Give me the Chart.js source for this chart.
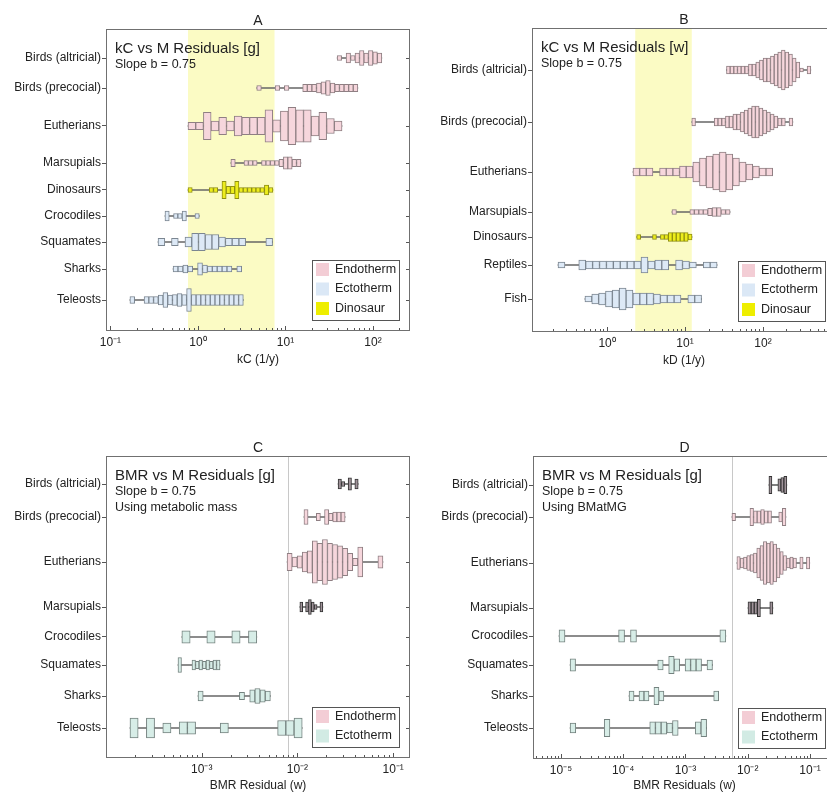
<!DOCTYPE html>
<html>
<head>
<meta charset="utf-8">
<script src="https://cdn.jsdelivr.net/npm/chart.js@4.4.1/dist/chart.umd.min.js"></script>
<style>
  body { margin: 0; background: #fff; width: 827px; height: 793px; position: relative; overflow: hidden; }
  canvas { position: absolute; }
</style>
</head>
<body>
<canvas id="chartA" width="414" height="400" style="left:0;top:0"></canvas>
<canvas id="chartB" width="424" height="400" style="left:414px;top:0"></canvas>
<canvas id="chartC" width="414" height="393" style="left:0;top:400px"></canvas>
<canvas id="chartD" width="424" height="393" style="left:414px;top:400px"></canvas>
<script>
// --- DATOS ---
// each group is a histogram on a log axis: first bin edge, bin width (decades), bin heights (count units)

// Panel A: kC vs M residuals [g]
const catsA = ['Birds (altricial)', 'Birds (precocial)', 'Eutherians', 'Marsupials', 'Dinosaurs', 'Crocodiles', 'Squamates', 'Sharks', 'Teleosts'];
const kindsA = ['endo', 'endo', 'endo', 'endo', 'dino', 'ecto', 'ecto', 'ecto', 'ecto'];
const startA = [39, 4.7, 0.77, 2.38, 0.77, 0.42, 0.35, 0.52, 0.167];
const stepA = [0.051, 0.0525, 0.088, 0.05, 0.0485, 0.049, 0.077, 0.056, 0.054];
const heightsA = [
  [1, 0, 2, 1, 2, 3, 2, 3, 2.5, 2],
  [1, 0, 0, 0, 1, 0, 1, 0, 0, 0, 1.5, 1.5, 1.5, 2, 2.5, 3, 2, 1.5, 1.5, 1.5, 1.5, 1.5],
  [1.5, 1.5, 5.5, 2, 3.5, 2, 4, 3.5, 3.5, 3.5, 6.5, 2.5, 6, 7.5, 6.5, 6.5, 4, 5.5, 3, 2],
  [1.5, 0, 0, 1, 1, 1, 0, 1, 1, 1, 1, 1.5, 2.5, 2.5, 1.5, 1.5],
  [1, 0, 0, 0, 0, 1, 1, 0, 3.5, 1.5, 1.5, 3.5, 1, 1, 1, 1, 1, 1, 2, 1],
  [2, 0, 1, 1, 2, 0, 0, 1],
  [1.5, 0, 1.5, 0, 2, 3.5, 3.5, 3, 3, 2, 1.5, 1.5, 1.5, 0, 0, 0, 1.5],
  [1.2, 1.2, 1.6, 1.2, 0, 2.5, 1.6, 1.2, 1.2, 1.2, 1.2, 1.2, 0, 1.2],
  [1.4, 0, 0, 1.4, 1.4, 1.4, 2, 3, 2, 2.2, 2.6, 2.2, 4.6, 2.2, 2.2, 2.2, 2.2, 2.2, 2.2, 2.2, 2.2, 2.2, 2.2, 2.2]
];
const bandA = [0.77, 7.5];
const tickExpA = [-1, 0, 1, 2];

// Panel B: kC vs M residuals [w]
const catsB = ['Birds (altricial)', 'Birds (precocial)', 'Eutherians', 'Marsupials', 'Dinosaurs', 'Reptiles', 'Fish'];
const kindsB = ['endo', 'endo', 'endo', 'endo', 'dino', 'ecto', 'ecto'];
const startB = [34, 12.2, 2.15, 6.8, 2.4, 0.235, 0.52];
const stepB = [0.047, 0.048, 0.0853, 0.0573, 0.0507, 0.0887, 0.088];
const heightsB = [
  [2, 2, 2, 2, 2, 2, 3, 3, 4, 5, 6, 6, 7, 8, 9, 10, 9, 8, 6, 4, 1, 0, 2],
  [2, 0, 0, 0, 0, 0, 2, 2, 2, 3, 3, 4, 4, 5, 6, 7, 8, 8, 7, 6, 5, 4, 3, 2, 2, 0, 2],
  [2, 2, 2, 0, 2, 2, 2, 3, 3, 5, 7, 8, 9, 10, 9, 7, 5, 4, 3, 2, 2],
  [1.2, 0, 0, 0, 1.2, 1.2, 1.2, 1.2, 1.8, 2.2, 2.2, 1.2, 1.2],
  [1.2, 0, 0, 0, 1.2, 0, 1.2, 1.2, 2.2, 2.2, 2.2, 2.2, 2.2, 1.5],
  [1.5, 0, 0, 2.5, 2, 2, 2, 2, 2, 2, 2, 2, 4, 2, 2.5, 2.5, 0, 2.5, 2, 1.5, 0, 1.5, 1.5],
  [1.5, 2.5, 3, 4, 4.5, 5.5, 4.5, 3, 3, 3, 2.5, 2, 2, 2, 0, 2, 2]
];
const bandB = [2.3, 12.2];
const tickExpB = [0, 1, 2];

// Panel C: BMR vs M residuals [g], metabolic mass
const catsC = ['Birds (altricial)', 'Birds (precocial)', 'Eutherians', 'Marsupials', 'Crocodiles', 'Squamates', 'Sharks', 'Teleosts'];
const kindsC = ['dark', 'endo', 'endo', 'dark', 'ecto2', 'ecto2', 'ecto2', 'ecto2'];
const startC = [0.0266, 0.0117, 0.0078, 0.0106, 6.2e-4, 5.65e-4, 9.15e-4, 1.78e-4];
const stepC = [0.035, 0.043, 0.0527, 0.03, 0.087, 0.0366, 0.054, 0.0857];
const heightsC = [
  [2, 1, 0, 2.5, 0, 2],
  [3, 0, 0, 1.5, 0, 3, 1.5, 2, 2, 2],
  [3.5, 2, 2.5, 4, 4.5, 8.5, 7.5, 9, 7.5, 7, 6.5, 5.5, 3.5, 1.5, 6, 0, 0, 0, 2.5],
  [2, 0, 2, 3, 2, 1, 0, 2],
  [2.5, 0, 0, 2.5, 0, 0, 2.5, 0, 2.5],
  [3, 0, 0, 0, 2, 1.5, 2, 1.5, 2, 1.5, 2, 2],
  [2, 0, 0, 0, 0, 0, 0, 0, 1.5, 0, 2.5, 3, 2.5, 2],
  [4, 0, 4, 0, 2, 0, 2.5, 2.5, 0, 0, 0, 2, 0, 0, 0, 0, 0, 0, 3, 3, 4]
];
const lineC = 0.008;
const tickExpC = [-3, -2, -1];

// Panel D: BMR vs M residuals [g], BMatMG
const catsD = catsC;
const kindsD = kindsC;
const startD = [0.0219, 5.58e-3, 6.7e-3, 0.0101, 9.3e-6, 1.4e-5, 1.24e-4, 1.4e-5];
const stepD = [0.048, 0.0578, 0.0532, 0.05, 0.0957, 0.088, 0.08, 0.0914];
const heightsD = [
  [3.5, 0, 0, 2.5, 3, 3.5],
  [1.5, 0, 0, 0, 0, 3.5, 2.5, 2.5, 3, 2.5, 2.5, 0, 0, 2, 3.5],
  [2.6, 2, 2.4, 3, 3.4, 4, 6, 7, 8.6, 8, 8.6, 7.6, 6, 4.6, 3, 2, 2.4, 2, 0, 2.4, 0, 2.4],
  [2.5, 2.5, 2.5, 3.5, 0, 0, 0, 2.5],
  [2.5, 0, 0, 0, 0, 0, 0, 0, 0, 0, 2.5, 0, 2.5, 0, 0, 0, 0, 0, 0, 0, 0, 0, 0, 0, 0, 0, 0, 2.5],
  [2.5, 0, 0, 0, 0, 0, 0, 0, 0, 0, 0, 0, 0, 0, 0, 0, 2, 0, 3.5, 2.5, 0, 2.5, 2.5, 2.5, 0, 2],
  [2, 0, 2, 2, 0, 3.5, 2, 0, 0, 0, 0, 0, 0, 0, 0, 0, 0, 2],
  [2, 0, 0, 0, 0, 0, 3.5, 0, 0, 0, 0, 0, 0, 0, 2.5, 2.5, 2.5, 2, 3, 0, 0, 0, 2.5, 3.5]
];
const lineD = 5.6e-3;
const tickExpD = [-5, -4, -3, -2, -1];

const legendAB = ['endo', 'ecto', 'dino'];
const legendCD = ['endo', 'ecto2'];
const legendNames = { endo: 'Endotherm', ecto: 'Ectotherm', ecto2: 'Ectotherm', dino: 'Dinosaur' };

// --- ESTILO ---
const FONT = "'Liberation Sans', Arial, sans-serif";
Chart.defaults.font.family = FONT;
Chart.defaults.color = '#222';

const FILL = { endo: '#f6d6dc', ecto: '#dde9f6', dino: '#eded1c', ecto2: '#d7ede7', dark: '#a0939a' };
const EDGE = { endo: '#8f7f83', ecto: '#7b8691', dino: '#8f8f10', ecto2: '#74827f', dark: '#333333' };
const SWATCH = { endo: '#f3cdd5', ecto: '#dbe8f6', dino: '#eeee00', ecto2: '#d2ebe4' };

const SUP = { '-': '⁻', '0': '⁰', '1': '¹', '2': '²', '3': '³', '4': '⁴', '5': '⁵', '6': '⁶', '7': '⁷', '8': '⁸', '9': '⁹' };
const powLabel = e => '10' + String(e).split('').map(ch => SUP[ch]).join('');

function logTicks(min, max) {
  const out = [];
  for (let e = Math.floor(Math.log10(min)); e <= Math.ceil(Math.log10(max)); e++) {
    for (let i = 1; i <= 9; i++) {
      const v = Number((i * Math.pow(10, e)).toPrecision(6));
      if (v >= min && v <= max) out.push({ value: v, major: i === 1 });
    }
  }
  return out;
}

function buildDatasets(p) {
  const whisk = [];
  const byH = {};
  p.cats.forEach((cat, g) => {
    const bins = p.heights[g].map((h, i) => ({
      lo: p.start[g] * Math.pow(10, i * p.step[g]),
      hi: p.start[g] * Math.pow(10, (i + 1) * p.step[g]),
      h
    }));
    const filled = bins.filter(b => b.h > 0);
    whisk.push({ x: [filled[0].lo, filled[filled.length - 1].hi], y: p.rows[g] });
    filled.forEach(b => {
      (byH[b.h] = byH[b.h] || []).push({ x: [b.lo, b.hi], y: p.rows[g], k: p.kinds[g] });
    });
  });
  const sets = [{
    data: whisk, barThickness: 1, backgroundColor: '#666', borderWidth: 0, order: 100
  }];
  Object.keys(byH).map(Number).sort((a, b) => a - b).forEach((h, i) => sets.push({
    data: byH[h],
    barThickness: h * p.unit,
    order: i,
    backgroundColor: c => (c.raw ? FILL[c.raw.k] : '#ccc'),
    borderColor: c => (c.raw ? EDGE[c.raw.k] : '#888'),
    borderWidth: 1,
    borderSkipped: false
  }));
  return sets;
}

function makeDecor(p) {
  return {
    id: 'decor' + p.letter,
    beforeDatasetsDraw(chart) {
      const { ctx, chartArea: a, scales: { x } } = chart;
      ctx.save();
      if (p.band) {
        const x0 = x.getPixelForValue(p.band[0]);
        const x1 = x.getPixelForValue(p.band[1]);
        ctx.fillStyle = '#fbfbc4';
        ctx.fillRect(x0, a.top, x1 - x0, a.bottom - a.top);
      }
      if (p.vline) {
        const px = Math.round(x.getPixelForValue(p.vline)) + 0.5;
        ctx.strokeStyle = '#c8c8c8';
        ctx.lineWidth = 1;
        ctx.beginPath();
        ctx.moveTo(px, a.top);
        ctx.lineTo(px, a.bottom);
        ctx.stroke();
      }
      ctx.restore();
    },
    afterDraw(chart) {
      const { ctx, chartArea: a, scales: { x, y } } = chart;
      ctx.save();
      ctx.strokeStyle = '#555';
      ctx.lineWidth = 1;
      ctx.beginPath();
      x.ticks.forEach(t => {
        const px = Math.round(x.getPixelForValue(t.value)) + 0.5;
        if (px < a.left || px > a.right) return;
        ctx.moveTo(px, a.bottom);
        ctx.lineTo(px, a.bottom - (t.major ? 5 : 3));
      });
      p.rows.forEach(r => {
        const py = Math.round(y.getPixelForValue(r)) + 0.5;
        ctx.moveTo(a.right, py);
        ctx.lineTo(a.right - 4, py);
      });
      ctx.stroke();

      ctx.strokeStyle = '#707070';
      ctx.strokeRect(a.left + 0.5, a.top + 0.5, a.right - a.left - 1, a.bottom - a.top - 1);

      ctx.fillStyle = '#222';
      ctx.textBaseline = 'alphabetic';
      ctx.textAlign = 'center';
      ctx.font = `14px ${FONT}`;
      ctx.fillText(p.letter, (a.left + a.right) / 2, a.top - 4);

      ctx.textAlign = 'left';
      p.notes.forEach((txt, i) => {
        ctx.font = i === 0 ? `15px ${FONT}` : `12.5px ${FONT}`;
        ctx.fillText(txt, a.left + 9, a.top + [24, 39, 55][i]);
      });

      const bw = 87, bh = p.legend.length * 20;
      const bx = a.right - 11 - bw, by = a.bottom - 11 - bh;
      ctx.fillStyle = '#fff';
      ctx.fillRect(bx, by, bw, bh);
      ctx.strokeStyle = '#555';
      ctx.strokeRect(bx + 0.5, by + 0.5, bw, bh);
      p.legend.forEach((k, i) => {
        const cy = by + 9.5 + i * 19.5;
        ctx.fillStyle = SWATCH[k];
        ctx.fillRect(bx + 4, cy - 6.5, 13, 13);
        ctx.fillStyle = '#222';
        ctx.font = `12.5px ${FONT}`;
        ctx.textBaseline = 'middle';
        ctx.fillText(legendNames[k], bx + 23, cy);
      });
      ctx.restore();
    }
  };
}

function makePanel(p) {
  const canvas = document.getElementById(p.id);
  return new Chart(canvas.getContext('2d'), {
    type: 'bar',
    data: { datasets: buildDatasets(p) },
    plugins: [makeDecor(p)],
    options: {
      indexAxis: 'y',
      responsive: false,
      animation: false,
      events: [],
      layout: { padding: { left: 0, right: p.w - p.right, top: p.top, bottom: p.h - p.bottom - p.xh } },
      datasets: { bar: { grouped: false } },
      plugins: { legend: { display: false }, tooltip: { enabled: false }, title: { display: false } },
      scales: {
        x: {
          type: 'logarithmic',
          min: p.xmin,
          max: p.xmax,
          offset: false,
          grid: { display: false, drawTicks: false },
          border: { display: false },
          afterBuildTicks: s => { s.ticks = logTicks(p.xmin, p.xmax); },
          afterFit: s => { s.height = p.xh; },
          ticks: {
            autoSkip: false,
            maxRotation: 0,
            minRotation: 0,
            padding: 4,
            font: { size: 12 },
            color: '#222',
            callback: v => {
              const e = p.exps.find(k => Math.abs(Math.log10(v) - k) < 1e-6);
              return e === undefined ? '' : powLabel(e);
            }
          },
          title: { display: true, text: p.xTitle, font: { size: 12 }, color: '#222', padding: 0 }
        },
        y: {
          type: 'linear',
          reverse: true,
          min: 0,
          max: p.bottom - p.top,
          offset: false,
          grid: { display: true, drawOnChartArea: false, drawTicks: true, tickLength: 4, color: '#555', offset: false },
          border: { display: false },
          afterBuildTicks: s => { s.ticks = p.rows.map(v => ({ value: v })); },
          afterFit: s => { s.width = p.left; },
          ticks: {
            autoSkip: false,
            padding: 1,
            font: { size: 12 },
            color: '#222',
            callback: (v, i) => p.cats[i]
          }
        }
      }
    }
  });
}

makePanel({
  id: 'chartA', letter: 'A', w: 414, h: 400, left: 106, right: 410, top: 29, bottom: 331, xh: 36,
  xmin: 0.089, xmax: 265, exps: tickExpA, xTitle: 'kC (1/y)', unit: 5,
  notes: ['kC vs M Residuals [g]', 'Slope b = 0.75'], band: bandA, legend: legendAB,
  cats: catsA, kinds: kindsA, rows: [29, 59, 97, 134, 161, 187, 213, 240, 271],
  start: startA, step: stepA, heights: heightsA
});

makePanel({
  id: 'chartB', letter: 'B', w: 424, h: 400, left: 118, right: 422, top: 28, bottom: 332, xh: 36,
  xmin: 0.109, xmax: 863, exps: tickExpB, xTitle: 'kD (1/y)', unit: 4,
  notes: ['kC vs M Residuals [w]', 'Slope b = 0.75'], band: bandB, legend: legendAB,
  cats: catsB, kinds: kindsB, rows: [42, 94, 144, 184, 209, 237, 271],
  start: startB, step: stepB, heights: heightsB
});

makePanel({
  id: 'chartC', letter: 'C', w: 414, h: 393, left: 106, right: 410, top: 56, bottom: 358, xh: 35,
  xmin: 1e-4, xmax: 0.15, exps: tickExpC, xTitle: 'BMR Residual (w)', unit: 5,
  notes: ['BMR vs M Residuals [g]', 'Slope b = 0.75', 'Using metabolic mass'], vline: lineC, legend: legendCD,
  cats: catsC, kinds: kindsC, rows: [28, 61, 106, 151, 181, 209, 240, 272],
  start: startC, step: stepC, heights: heightsC
});

makePanel({
  id: 'chartD', letter: 'D', w: 424, h: 393, left: 119, right: 422, top: 56, bottom: 359, xh: 34,
  xmin: 3.55e-6, xmax: 0.262, exps: tickExpD, xTitle: 'BMR Residuals (w)', unit: 5,
  notes: ['BMR vs M Residuals [g]', 'Slope b = 0.75', 'Using BMatMG'], vline: lineD, legend: legendCD,
  cats: catsD, kinds: kindsD, rows: [29, 61, 107, 152, 180, 209, 240, 272],
  start: startD, step: stepD, heights: heightsD
});
</script>
</body>
</html>
